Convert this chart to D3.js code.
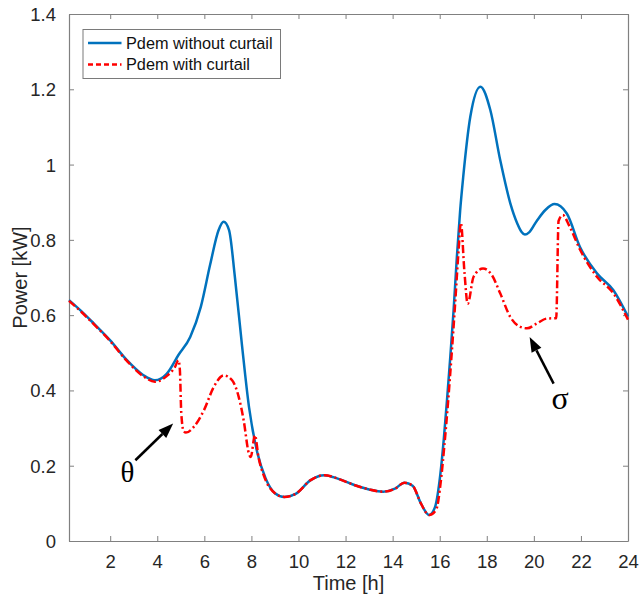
<!DOCTYPE html>
<html>
<head>
<meta charset="utf-8">
<script src="https://cdn.jsdelivr.net/npm/d3@7"></script>
<style>
  html, body { margin: 0; padding: 0; background: #fff; }
  svg { display: block; }
</style>
</head>
<body>
<div id="chart"></div>
<script>
// Demand power over one day, sampled at irregular times (hours)
const blueT = [0.25, 0.75, 1.3, 2.0, 2.7, 3.4, 3.9, 4.4, 4.9, 5.4, 5.85, 6.25, 6.6, 6.82, 7.05, 7.3, 7.6, 7.9, 8.25, 8.6,
  9.0, 9.4, 9.9, 10.5, 11.1, 11.7, 12.4, 13.0, 13.6, 14.1, 14.5, 14.85, 15.2, 15.55, 15.8, 16.03, 16.17, 16.31, 16.45,
  16.59, 16.73, 16.87, 17.0, 17.3, 17.73, 18.15, 18.57, 19.0, 19.3, 19.48, 19.62, 19.8, 20.13, 20.5, 20.88, 21.4, 21.96,
  22.68, 23.38, 24];
const blueV = [0.640, 0.612, 0.578, 0.533, 0.481, 0.441, 0.427, 0.444, 0.494, 0.542, 0.622, 0.735, 0.825, 0.848, 0.826,
  0.700, 0.520, 0.355, 0.235, 0.167, 0.127, 0.117, 0.126, 0.161, 0.175, 0.165, 0.148, 0.137, 0.131, 0.139, 0.155, 0.147,
  0.100, 0.069, 0.090, 0.179, 0.268, 0.374, 0.489, 0.613, 0.755, 0.879, 0.968, 1.127, 1.207, 1.145, 1.012, 0.897, 0.843,
  0.821, 0.814, 0.820, 0.851, 0.880, 0.895, 0.870, 0.781, 0.711, 0.666, 0.596];

const redT = [0.25, 0.75, 1.3, 2.0, 2.7, 3.4, 3.9, 4.4, 4.75, 4.9, 4.96, 5.02, 5.12, 5.22, 5.55, 5.98, 6.4, 6.82, 7.18,
  7.46, 7.67, 7.89, 7.97, 8.15, 8.3, 8.52, 9.0, 9.4, 9.9, 10.5, 11.1, 11.7, 12.4, 13.0, 13.6, 14.1, 14.5, 14.85, 15.2,
  15.55, 15.85, 16.05, 16.2, 16.35, 16.5, 16.65, 16.8, 16.9, 17.05, 17.19, 17.44, 17.84, 18.22, 18.57, 19.0, 19.42,
  19.71, 20.13, 20.56, 20.95, 21.05, 21.23, 21.5, 21.97, 22.68, 23.38, 24];
const redV = [0.638, 0.610, 0.576, 0.531, 0.479, 0.438, 0.423, 0.438, 0.462, 0.480, 0.455, 0.340, 0.292, 0.288, 0.303,
  0.347, 0.409, 0.440, 0.427, 0.383, 0.321, 0.233, 0.223, 0.281, 0.223, 0.175, 0.127, 0.117, 0.126, 0.161, 0.175, 0.165,
  0.148, 0.137, 0.131, 0.139, 0.155, 0.147, 0.100, 0.069, 0.083, 0.160, 0.255, 0.365, 0.490, 0.625, 0.770, 0.845, 0.715,
  0.630, 0.702, 0.724, 0.706, 0.658, 0.595, 0.569, 0.565, 0.578, 0.591, 0.592, 0.850, 0.866, 0.838, 0.773, 0.702, 0.658,
  0.588];

const xTicks = [2, 4, 6, 8, 10, 12, 14, 16, 18, 20, 22, 24];
const yTicks = [0, 0.2, 0.4, 0.6, 0.8, 1, 1.2, 1.4];
const seriesNames = ["Pdem without curtail", "Pdem with curtail"];

// Annotations in data units: [tailT, tailV, tipT, tipV], label position
const thetaArrow = [3.07, 0.2145, 4.675, 0.312];
const thetaLabel = [2.73, 0.183];
const sigmaArrow = [20.84, 0.418, 19.82, 0.542];
const sigmaLabel = [21.12, 0.379];

const W = 639, H = 603;
const margin = { left: 69, top: 14, right: 11, bottom: 62 };
const iw = W - margin.left - margin.right;
const ih = H - margin.top - margin.bottom;

const svg = d3.select("#chart").append("svg").attr("width", W).attr("height", H);
const g = svg.append("g").attr("transform", `translate(${margin.left},${margin.top})`);

const x = d3.scaleLinear().domain([0.25, 24]).range([0, iw]);
const y = d3.scaleLinear().domain([0, 1.4]).range([ih, 0]);

const font = "'Liberation Sans', Arial, Helvetica, sans-serif";
const axisColor = "#808080";
const textColor = "#262626";
const tickLen = 5;

// Axes with inward ticks on all four sides
const xAxis = g.append("g").attr("transform", `translate(0,${ih})`)
  .call(d3.axisBottom(x).tickValues(xTicks).tickSizeInner(-tickLen).tickSizeOuter(0).tickPadding(14).tickFormat(d3.format("d")));
const yAxis = g.append("g")
  .call(d3.axisLeft(y).tickValues(yTicks).tickSizeInner(-tickLen).tickSizeOuter(0).tickPadding(13).tickFormat(d => d3.format("")(+d.toFixed(1))));
const xTop = g.append("g")
  .call(d3.axisTop(x).tickValues(xTicks).tickSizeInner(-tickLen).tickSizeOuter(0).tickFormat(""));
const yRight = g.append("g").attr("transform", `translate(${iw},0)`)
  .call(d3.axisRight(y).tickValues(yTicks).tickSizeInner(-tickLen).tickSizeOuter(0).tickFormat(""));

[xAxis, yAxis, xTop, yRight].forEach(a => {
  a.select(".domain").attr("stroke", axisColor).attr("stroke-width", 1.2);
  a.selectAll(".tick line").attr("stroke", axisColor).attr("stroke-width", 1);
  a.selectAll(".tick text").attr("fill", textColor).attr("font-family", font).attr("font-size", 18.5);
});
yAxis.selectAll(".tick text").attr("dy", "0.35em");

// Lines
const lineGen = d3.line().x(d => x(d[0])).y(d => y(d[1])).curve(d3.curveMonotoneX);
const blueData = blueT.map((t, i) => [t, blueV[i]]);
const redData = redT.map((t, i) => [t, redV[i]]);

const plot = g.append("g");
plot.append("path").datum(blueData)
  .attr("d", lineGen).attr("fill", "none").attr("stroke", "#0072BD").attr("stroke-width", 2.5)
  .attr("stroke-linejoin", "round");
plot.append("path").datum(redData)
  .attr("d", lineGen).attr("fill", "none").attr("stroke", "#FF0000").attr("stroke-width", 2.5)
  .attr("stroke-dasharray", "8,3,2,3").attr("stroke-linejoin", "round");

// Axis titles
svg.append("text")
  .attr("x", margin.left + iw / 2).attr("y", H - 13)
  .attr("text-anchor", "middle").attr("font-family", font).attr("font-size", 20).attr("fill", textColor)
  .text("Time [h]");
svg.append("text")
  .attr("transform", `translate(27,${margin.top + ih / 2}) rotate(-90)`)
  .attr("text-anchor", "middle").attr("font-family", font).attr("font-size", 20).attr("fill", textColor)
  .text("Power [kW]");

// Arrows with filled heads
function drawArrow(a) {
  const x0 = x(a[0]), y0 = y(a[1]), x1 = x(a[2]), y1 = y(a[3]);
  const ang = Math.atan2(y1 - y0, x1 - x0);
  const hl = 15, hw = 5.5;
  const bx = x1 - hl * Math.cos(ang), by = y1 - hl * Math.sin(ang);
  g.append("line").attr("x1", x0).attr("y1", y0).attr("x2", bx).attr("y2", by)
    .attr("stroke", "#000").attr("stroke-width", 2.5);
  const px = -Math.sin(ang) * hw, py = Math.cos(ang) * hw;
  g.append("path")
    .attr("d", `M${x1},${y1}L${bx + px},${by + py}L${bx - px},${by - py}Z`)
    .attr("fill", "#000");
}
drawArrow(thetaArrow);
drawArrow(sigmaArrow);

const serif = "'Liberation Serif', 'Times New Roman', serif";
g.append("text").attr("x", x(thetaLabel[0])).attr("y", y(thetaLabel[1]))
  .attr("text-anchor", "middle").attr("dominant-baseline", "central")
  .attr("font-family", serif).attr("font-size", 29).attr("fill", "#000").text("θ");
g.append("text").attr("x", x(sigmaLabel[0])).attr("y", y(sigmaLabel[1]))
  .attr("text-anchor", "middle").attr("dominant-baseline", "central")
  .attr("font-family", serif).attr("font-size", 32).attr("fill", "#000").text("σ");

// Legend
const leg = svg.append("g").attr("transform", "translate(83,29.5)");
leg.append("rect").attr("width", 197.5).attr("height", 49)
  .attr("fill", "#fff").attr("stroke", "#7a7a7a").attr("stroke-width", 1);
const legStyles = [
  { color: "#0072BD", dash: null },
  { color: "#FF0000", dash: "5,3" }
];
seriesNames.forEach((name, i) => {
  const yy = 13.5 + i * 21.5;
  leg.append("line").attr("x1", 5).attr("x2", 38.5).attr("y1", yy).attr("y2", yy)
    .attr("stroke", legStyles[i].color).attr("stroke-width", 2.5)
    .attr("stroke-dasharray", legStyles[i].dash);
  leg.append("text").attr("x", 43).attr("y", yy).attr("dy", "0.35em")
    .attr("font-family", font).attr("font-size", 16.3).attr("fill", "#111").text(name);
});
</script>
</body>
</html>
